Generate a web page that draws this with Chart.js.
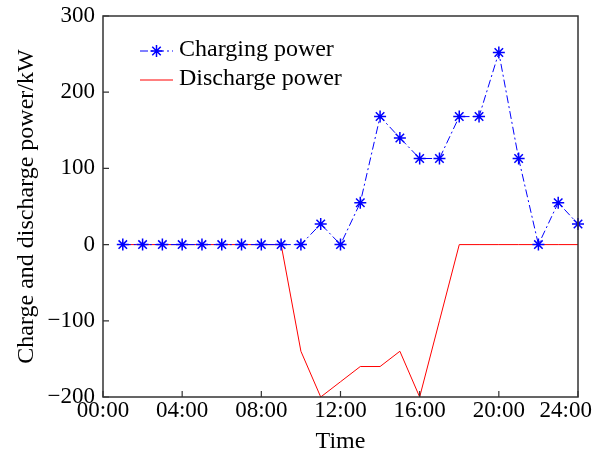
<!DOCTYPE html>
<html>
<head>
<meta charset="utf-8">
<script src="https://cdn.jsdelivr.net/npm/chart.js@4.4.0/dist/chart.umd.min.js"></script>
<style>
    html, body { margin: 0; padding: 0; background: #fff; }
    #wrap { width: 600px; height: 454px; }
</style>
</head>
<body>
<div id="wrap"><canvas id="power-chart" width="600" height="454"></canvas></div>
<script>
const hours = [1, 2, 3, 4, 5, 6, 7, 8, 9, 10, 11, 12, 13, 14, 15, 16, 17, 18, 19, 20, 21, 22, 23, 24];
const chargingPower = [0, 0, 0, 0, 0, 0, 0, 0, 0, 0, 27, 0, 55, 168, 140, 113, 113, 168, 168, 252, 113, 0, 55, 27];
const dischargePower = [0, 0, 0, 0, 0, 0, 0, 0, 0, -140, -200, -180, -160, -160, -140, -200, -100, 0, 0, 0, 0, 0, 0, 0];
const xTicks = [0, 4, 8, 12, 16, 20, 24];
const yTicks = [-200, -100, 0, 100, 200, 300];
const seriesNames = ['Charging power', 'Discharge power'];

const serif = '"Liberation Serif", "Times New Roman", serif';
const fmtHour = h => String(h).padStart(2, '0') + ':00';

// frame, inward ticks, x labels and the legend box inside the plot
const framePlugin = {
    id: 'frame',
    afterDraw(chart) {
        const { ctx, chartArea: a, scales } = chart;
        ctx.save();
        ctx.strokeStyle = '#333';
        ctx.lineWidth = 1.5;
        ctx.strokeRect(a.left, a.top, a.right - a.left, a.bottom - a.top);

        ctx.lineWidth = 1.2;
        ctx.beginPath();
        xTicks.forEach(v => {
            const px = scales.x.getPixelForValue(v);
            ctx.moveTo(px, a.bottom);
            ctx.lineTo(px, a.bottom - 6);
        });
        yTicks.forEach(v => {
            const py = scales.y.getPixelForValue(v);
            ctx.moveTo(a.left, py);
            ctx.lineTo(a.left + 6, py);
        });
        ctx.stroke();

        ctx.fillStyle = '#000';
        ctx.font = '23px ' + serif;
        ctx.textBaseline = 'top';
        ctx.textAlign = 'left';
        xTicks.forEach(v => {
            const label = fmtHour(v);
            const w = ctx.measureText(label).width;
            let x = scales.x.getPixelForValue(v) - w / 2;
            if (x + w > chart.width - 8) x = chart.width - 8 - w;
            ctx.fillText(label, x, a.bottom + 2);
        });

        // legend
        const lx = a.left + 37, ly1 = a.top + 35, ly2 = a.top + 64;
        ctx.strokeStyle = '#0000ff';
        ctx.lineWidth = 1;
        ctx.setLineDash([8, 3, 2, 3]);
        ctx.beginPath();
        ctx.moveTo(lx, ly1);
        ctx.lineTo(lx + 33, ly1);
        ctx.stroke();
        ctx.setLineDash([]);
        const cx = lx + 16.5;
        ctx.lineWidth = 1.5;
        ctx.beginPath();
        for (let k = 0; k < 4; k++) {
            const ang = k * Math.PI / 4;
            ctx.moveTo(cx - 6 * Math.cos(ang), ly1 - 6 * Math.sin(ang));
            ctx.lineTo(cx + 6 * Math.cos(ang), ly1 + 6 * Math.sin(ang));
        }
        ctx.stroke();

        ctx.strokeStyle = '#ff0000';
        ctx.lineWidth = 1;
        ctx.beginPath();
        ctx.moveTo(lx, ly2);
        ctx.lineTo(lx + 33, ly2);
        ctx.stroke();

        ctx.fillStyle = '#000';
        ctx.font = '24px ' + serif;
        ctx.textBaseline = 'middle';
        ctx.fillText(seriesNames[0], lx + 39, ly1 - 1);
        ctx.fillText(seriesNames[1], lx + 39, ly2 - 1);
        ctx.restore();
    }
};

new Chart(document.getElementById('power-chart'), {
    type: 'line',
    data: {
        datasets: [
            {
                label: seriesNames[0],
                data: hours.map((h, i) => ({ x: h, y: chargingPower[i] })),
                borderColor: '#0000ff',
                borderWidth: 1,
                borderDash: [8, 3, 2, 3],
                pointStyle: 'star',
                pointRadius: 6,
                pointBorderWidth: 1.5,
                pointBorderColor: '#0000ff',
                pointBackgroundColor: '#0000ff',
                tension: 0,
                clip: false
            },
            {
                label: seriesNames[1],
                data: hours.map((h, i) => ({ x: h, y: dischargePower[i] })),
                borderColor: '#ff0000',
                borderWidth: 1,
                pointRadius: 0,
                tension: 0,
                clip: false
            }
        ]
    },
    options: {
        responsive: false,
        animation: false,
        layout: { padding: { top: 16, right: 22, left: 0, bottom: 0 } },
        plugins: {
            legend: { display: false },
            tooltip: { enabled: false }
        },
        scales: {
            x: {
                type: 'linear',
                min: 0,
                max: 24,
                afterBuildTicks: s => { s.ticks = xTicks.map(v => ({ value: v })); },
                ticks: { display: false },
                grid: { display: false, drawTicks: false },
                border: { display: false },
                title: {
                    display: true,
                    text: 'Time',
                    color: '#000',
                    font: { family: serif, size: 24, lineHeight: 1 },
                    padding: { top: 0, bottom: 0 }
                },
                afterFit: s => { s.height = 57; s.paddingLeft = 0; s.paddingRight = 0; }
            },
            y: {
                min: -200,
                max: 300,
                afterBuildTicks: s => { s.ticks = yTicks.map(v => ({ value: v })); },
                ticks: {
                    color: '#000',
                    font: { family: serif, size: 23 },
                    padding: 8,
                    callback: v => String(v).replace('-', '\u2212')
                },
                grid: { display: false, drawTicks: false },
                border: { display: false },
                title: {
                    display: true,
                    text: 'Charge and discharge power/kW',
                    color: '#000',
                    font: { family: serif, size: 24, lineHeight: 1 },
                    padding: { top: 15, bottom: 0 }
                },
                afterFit: s => { s.width = 103; s.paddingTop = 0; s.paddingBottom = 0; }
            }
        }
    },
    plugins: [framePlugin]
});
</script>
</body>
</html>
